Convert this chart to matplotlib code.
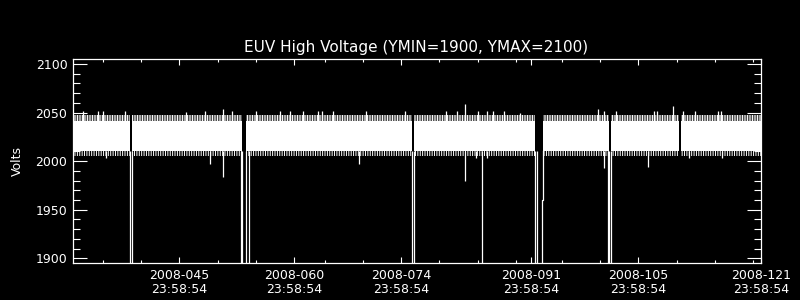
#!/usr/bin/env python3
"""
EUV High Voltage plot (IDL style, black background)
"""

import matplotlib
matplotlib.use('Agg')
import matplotlib.pyplot as plt

# ============================================================
# Data (x = 2008 day of year + fraction of day)
# ============================================================
x_start, x_end = 32.1, 122.0
y_min, y_max = 1894.9, 2104.8

# body of the noisy voltage band and the ragged edges around it
band_low, band_high = 2010.0, 2041.5
fringe_low, fringe_high = 2005.5, 2047.5

# dropouts where the voltage fell below the plot floor (start, end)
drop_gaps = [(39.56, 39.82), (54.25, 54.71), (76.48, 76.72),
             (92.56, 93.54), (102.17, 102.43)]
# single samples that fell below the floor
drop_days = [54.07, 55.08, 85.63, 92.71, 102.08]
floor_value = 1850.0
# partial recovery after the day-92 dropout
recovery_day, recovery_value = 93.45, 1960.0
# short stretch with no data
missing_gaps = [(111.32, 111.54)]

up_spike_days = [33.37, 35.41, 35.98, 38.90, 46.84, 49.40, 51.75, 52.85,
                 56.03, 59.16, 60.47, 62.21, 64.17, 64.69, 66.13, 70.37,
                 75.51, 80.82, 82.26, 83.38, 85.08, 86.18, 86.97, 88.48,
                 90.53, 100.69, 101.55, 103.08, 108.09, 108.48, 110.57,
                 111.80, 113.41, 116.45, 116.81]
up_spike_vals = [2052.0, 2052.0, 2051.5, 2052.0, 2051.0, 2052.0, 2053.7, 2052.0,
                 2051.6, 2051.6, 2052.0, 2051.6, 2052.0, 2051.6, 2051.6, 2051.6,
                 2052.0, 2051.6, 2052.0, 2058.8, 2051.6, 2051.6, 2051.6, 2051.6,
                 2049.6, 2053.7, 2052.0, 2052.0, 2052.0, 2052.0, 2056.8,
                 2052.0, 2051.6, 2051.6, 2051.6]

down_spike_days = [36.38, 50.01, 51.75, 69.53, 83.38, 84.78, 86.26,
                   101.51, 107.30, 112.66, 116.90]
down_spike_vals = [2003.6, 1997.5, 1984.0, 1997.5, 1980.0, 2003.6, 2003.6,
                   1993.0, 1993.5, 2003.0, 2003.6]

# axis ticks
major_days = [45.999, 60.999, 74.999, 91.999, 105.999, 121.999]
major_labels = ['2008-045\n23:58:54', '2008-060\n23:58:54', '2008-074\n23:58:54',
                '2008-091\n23:58:54', '2008-105\n23:58:54', '2008-121\n23:58:54']
minor_days = [35.999, 40.999, 50.999, 55.999, 64.999, 69.999, 79.999, 84.999,
              89.999, 95.999, 100.999, 110.999, 115.999, 120.999]
y_major = [1900, 1950, 2000, 2050, 2100]
y_minor = list(range(1900, 2101, 10))


def main():
    fg = 'white'
    plt.rcParams['font.family'] = ['DejaVu Sans']
    plt.rcParams['hatch.linewidth'] = 0.7

    fig = plt.figure(figsize=(8, 3), dpi=100, facecolor='black')
    ax = fig.add_axes([73 / 800, 1 - 263.3 / 300, 687.7 / 800, 204 / 300])
    ax.set_facecolor('black')

    # band segments between the gaps
    cuts = sorted(drop_gaps + missing_gaps)
    edges = [x_start]
    for a, b in cuts:
        edges += [a, b]
    edges.append(x_end)
    for i in range(0, len(edges), 2):
        a, b = edges[i], edges[i + 1]
        ax.fill_between([a, b], band_low, band_high, color=fg, lw=0)
        ax.fill_between([a, b], band_high, fringe_high, facecolor='none',
                        edgecolor=fg, hatch='|' * 10, lw=0)
        ax.fill_between([a, b], fringe_low, band_low, facecolor='none',
                        edgecolor=fg, hatch='|' * 7, lw=0)

    # dropouts
    lw = 0.9
    for a, b in drop_gaps:
        ax.vlines(a, floor_value, band_low, color=fg, lw=lw)
        if a < recovery_day < b:
            ax.plot([recovery_day, recovery_day, b, b],
                    [floor_value, recovery_value, recovery_value, band_low],
                    color=fg, lw=lw)
        else:
            ax.vlines(b, floor_value, band_low, color=fg, lw=lw)
    ax.vlines(drop_days, floor_value, band_low, color=fg, lw=lw)

    # spikes
    ax.vlines(up_spike_days, band_high, up_spike_vals, color=fg, lw=lw)
    ax.vlines(down_spike_days, down_spike_vals, band_low, color=fg, lw=lw)

    ax.set_xlim(x_start, x_end)
    ax.set_ylim(y_min, y_max)

    for s in ax.spines.values():
        s.set_color(fg)
        s.set_linewidth(0.9)

    ax.set_xticks(major_days)
    ax.set_xticklabels(major_labels)
    ax.set_xticks(minor_days, minor=True)
    ax.set_yticks(y_major)
    ax.set_yticks(y_minor, minor=True)

    ax.tick_params(axis='both', which='both', direction='in', colors=fg,
                   width=0.8, labelsize=9)
    ax.tick_params(axis='x', which='both', top=True, bottom=True)
    ax.tick_params(axis='x', which='major', length=4.5, pad=4)
    ax.tick_params(axis='x', which='minor', length=2.3)
    ax.tick_params(axis='y', which='both', left=True, right=True)
    ax.tick_params(axis='y', which='major', length=10, pad=4)
    ax.tick_params(axis='y', which='minor', length=5)
    for lab in ax.get_xticklabels():
        lab.set_linespacing(1.15)

    fig.text(0.52, 1 - 47.5 / 300, 'EUV High Voltage (YMIN=1900, YMAX=2100)',
             color=fg, fontsize=11, ha='center', va='center')
    fig.text(17 / 800, 1 - 161 / 300, 'Volts', color=fg, fontsize=9,
             rotation=90, ha='center', va='center')

    fig.savefig('out.png', dpi=100, facecolor='black')
    plt.close(fig)


if __name__ == '__main__':
    main()
